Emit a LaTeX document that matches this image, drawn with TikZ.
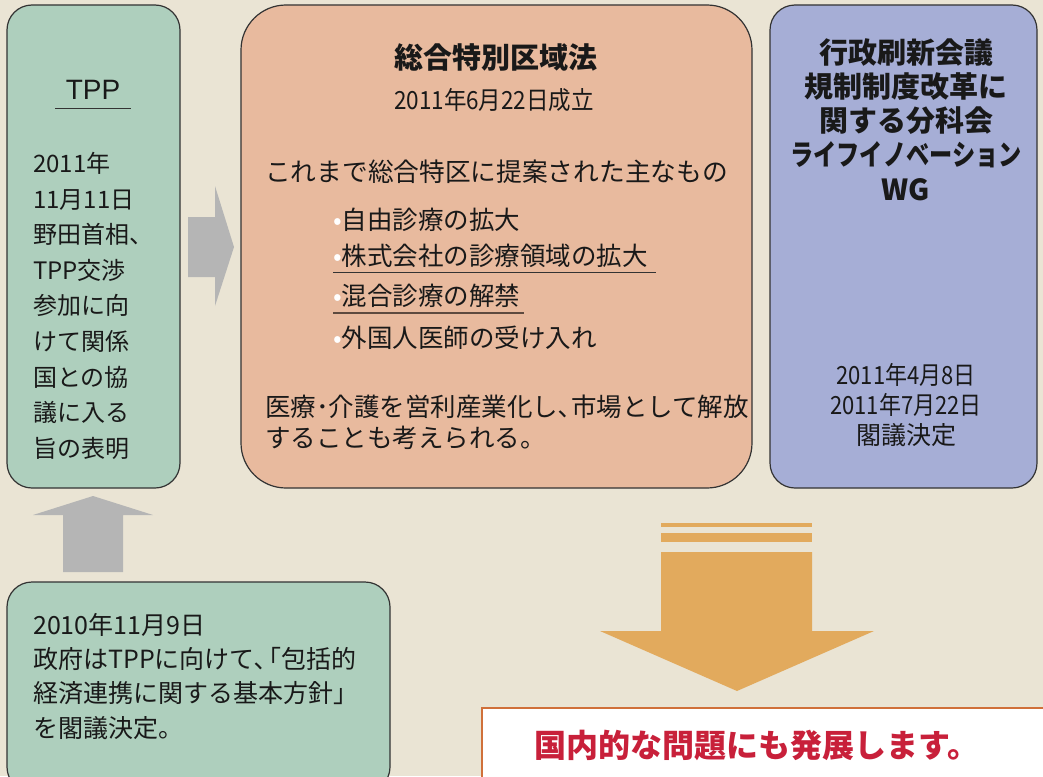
\documentclass[tikz,border=0pt]{standalone}
\usepackage{fontspec}
\setmainfont{Noto Sans CJK JP}
\newfontfamily\latinfont{Liberation Sans}
\definecolor{bgc}{HTML}{EAE4D4}
\definecolor{greenc}{HTML}{AECFBD}
\definecolor{salmonc}{HTML}{E8BA9E}
\definecolor{bluec}{HTML}{A6AED6}
\definecolor{grayar}{HTML}{B5B5B5}
\definecolor{orangec}{HTML}{E2AA5D}
\definecolor{redtx}{HTML}{C8203A}
\definecolor{redbd}{HTML}{D0703A}
\tikzset{
  panel/.style={draw=black!80, line width=1.2pt, inner sep=0pt},
  txt/.style={inner sep=0pt, text=black!90},
}
\begin{document}
\begin{tikzpicture}[x=1pt,y=-1pt]
\fill[bgc] (0,0) rectangle (1043,776);
\useasboundingbox (0,0) rectangle (1043,776);
\clip (0,0) rectangle (1043,776);
% left green box
\node[panel, fill=greenc, rounded corners=25pt, minimum width=173pt, minimum height=483pt] (tpp) at (93.5,246.5) {};
\node[txt, font=\fontsize{28}{30}\selectfont\latinfont] (tpptitle) at (93,90) {TPP};
\coordinate (ulA) at (55,108); \coordinate (ulB) at (131,108);
\draw[line width=1pt, black!80] (ulA) -- (ulB);
\node[txt, anchor=north west, align=left, font=\fontsize{24}{35.6}\selectfont] (tpptext) at (33,152) {2011年\\11月11日\\野田首相、\\TPP交渉\\参加に向\\けて関係\\国との協\\議に入る\\旨の表明};
% right arrow gray
\fill[grayar] (188,217) -- (215,217) -- (215,186) -- (234,247) -- (215,306) -- (215,277) -- (188,277) -- cycle;
% middle box
\node[panel, fill=salmonc, rounded corners=45pt, minimum width=511pt, minimum height=483pt] (zone) at (496.5,246.5) {};
\node[txt, font=\fontsize{29}{32}\selectfont\bfseries] (zonetitle) at (496,57) {総合特別区域法};
\node[txt, font=\fontsize{25}{28}\selectfont] (zonedate) at (494,100) {\scalebox{0.9}[1]{2011年6月22日成立}};
\node[txt, anchor=west, font=\fontsize{25.7}{30}\selectfont] (zonelead) at (265,172) {これまで総合特区に提案された主なもの};
\node[txt, anchor=west, font=\fontsize{25.5}{30}\selectfont] (b1) at (333,220) {{\color{white}\textbullet}自由診療の拡大};
\node[txt, anchor=west, font=\fontsize{25.5}{30}\selectfont] (b2) at (333,256) {{\color{white}\textbullet}株式会社の診療領域の拡大};
\node[txt, anchor=west, font=\fontsize{25.5}{30}\selectfont] (b3) at (333,296) {{\color{white}\textbullet}混合診療の解禁};
\node[txt, anchor=west, font=\fontsize{25.5}{30}\selectfont] (b4) at (333,338) {{\color{white}\textbullet}外国人医師の受け入れ};
\coordinate (u2a) at (333,272); \coordinate (u2b) at (656,272);
\coordinate (u3a) at (333,313); \coordinate (u3b) at (524,313);
\draw[line width=1pt, black!80] (u2a) -- (u2b);
\draw[line width=1.3pt, black!60!salmonc] (u3a) -- (u3b);
\node[txt, anchor=north west, align=left, font=\fontsize{25.5}{30.5}\selectfont] (zonefoot) at (265,395) {医療･介護を営利産業化し､市場として解放\\することも考えられる。};
% right blue box
\node[panel, fill=bluec, rounded corners=25pt, minimum width=267pt, minimum height=483pt] (wg) at (903.5,246.5) {};
\node[txt, align=center, font=\fontsize{29}{34.3}\selectfont\bfseries, anchor=north] (wgtitle) at (906,38) {行政刷新会議\\規制制度改革に\\関する分科会\\\scalebox{0.8}[1]{ライフイノベーション}\\WG};
\node[txt, align=center, font=\fontsize{25}{30}\selectfont, anchor=north] (wgdate) at (906,363) {\scalebox{0.88}[1]{2011年4月8日}\\\scalebox{0.88}[1]{2011年7月22日}\\閣議決定};
% up arrow gray
\fill[grayar] (63,572) -- (63,515) -- (33,515) -- (93,496) -- (153,515) -- (123,515) -- (123,572) -- cycle;
% bottom green box
\node[panel, fill=greenc, rounded corners=25pt, minimum width=383pt, minimum height=210pt] (basic) at (198.5,687) {};
\node[txt, anchor=north west, align=left, font=\fontsize{25}{34.3}\selectfont] (basictext) at (33,613) {2010年11月9日\\政府はTPPに向けて､\kern-11pt「包括的\\経済連携に関する基本方針」\\を閣議決定。};
% orange down arrow
\fill[orangec] (661,523) rectangle (812,527);
\fill[orangec] (661,533) rectangle (812,542);
\fill[orangec] (661,552) -- (812,552) -- (812,631) -- (874,631) -- (737,691) -- (600,631) -- (661,631) -- cycle;
% bottom result box
\node[draw=redbd, line width=2pt, fill=white, minimum width=570pt, minimum height=90pt, inner sep=0pt] (result) at (767,753) {};
\node[txt, text=redtx, font=\fontsize{32}{34}\selectfont\bfseries] (resulttext) at (757,745) {国内的な問題にも発展します。};
\end{tikzpicture}
\end{document}
